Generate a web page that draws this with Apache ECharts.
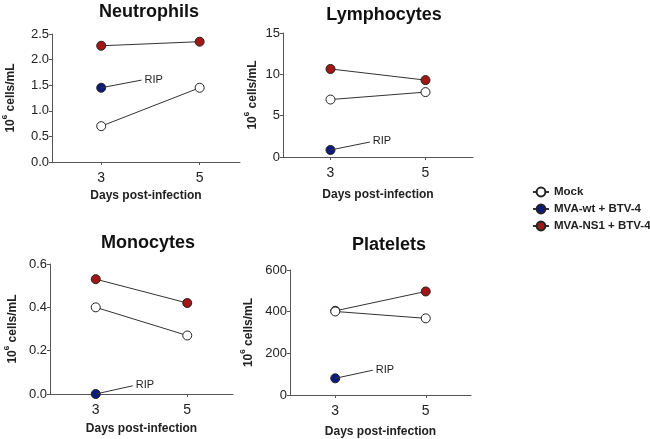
<!DOCTYPE html>
<html><head><meta charset="utf-8">
<script src="https://cdn.jsdelivr.net/npm/echarts@6/dist/echarts.min.js"></script>
<style>html,body{margin:0;padding:0;background:#fff}#c{width:650px;height:439px}</style>
</head><body><div id="c"></div>
<script>
// ---- data ----
const days = [3, 5];
const panelTitles = ['Neutrophils', 'Lymphocytes', 'Monocytes', 'Platelets'];
const groupNames = ['Mock', 'MVA-wt + BTV-4', 'MVA-NS1 + BTV-4'];
const neutroMock = [0.70, 1.45];
const neutroWt = [1.45];
const neutroNS1 = [2.27, 2.35];
const lymphoMock = [6.95, 7.85];
const lymphoWt = [0.85];
const lymphoNS1 = [10.65, 9.3];
const monoMock = [0.40, 0.27];
const monoWt = [0.0];
const monoNS1 = [0.53, 0.42];
const platMock = [401, 368];
const platWt = [80];
const platNS1 = [404, 497];
const yMax = [2.5, 15, 0.6, 600];
const yStep = [0.5, 5, 0.2, 200];
const yDecimals = [1, 0, 1, 0];
const xTickLabels = [3, 5];
const ripLabel = 'RIP';
// RIP annotation end points (data units)
const ripEnd = [[3.82, 1.60], [3.83, 1.81], [3.81, 0.038], [3.83, 119]];

const FONT = '"Liberation Sans", Arial, Helvetica, sans-serif';
const mockData = [neutroMock, lymphoMock, monoMock, platMock];
const wtData = [neutroWt, lymphoWt, monoWt, platWt];
const ns1Data = [neutroNS1, lymphoNS1, monoNS1, platNS1];

const grids = [
  {left: 49, top: 34, width: 191, height: 128},
  {left: 283, top: 33, width: 190, height: 124},
  {left: 50, top: 264, width: 183, height: 130},
  {left: 290, top: 270, width: 181, height: 126}
];
const xMax = [5.82, 6, 6, 6];
const yNameGap = [35, 24, 31, 35];
const xNameGap = [28, 32, 29, 31];
const titlePos = [[149, 3], [384, 6], [148, 234], [389, 236]];

const fillColors = ['#ffffff', '#0b1a7c', '#a11616'];
const edge = '#222';

const pairs = (xs, ys) => ys.map((v, i) => [xs[i], v]);

const series = [];
for (let p = 0; p < 4; p++) {
  const groups = [ns1Data[p], wtData[p], mockData[p]];
  const gIdx = [2, 1, 0];
  groups.forEach((vals, k) => {
    const g = gIdx[k];
    const s = {
      type: 'line', name: groupNames[g], xAxisIndex: p, yAxisIndex: p,
      data: pairs(days, vals), symbol: 'circle', symbolSize: 9, clip: false,
      z: 3 + k,
      lineStyle: {color: '#333', width: 1},
      itemStyle: {color: fillColors[g], borderColor: edge, borderWidth: 1},
      emphasis: {disabled: true}, animation: false
    };
    if (g === 1) {
      s.markLine = {
        silent: true, symbol: 'none', animation: false,
        lineStyle: {color: '#333', width: 1, type: 'solid'},
        label: {show: true, position: 'end', formatter: ripLabel, color: '#222',
                fontFamily: FONT, fontSize: 11, distance: 3},
        data: [[{coord: [days[0], vals[0]]}, {coord: ripEnd[p]}]]
      };
    }
    series.push(s);
  });
}

const xAxes = grids.map((g, p) => ({
  type: 'value', gridIndex: p, min: 2, max: xMax[p],
  name: 'Days post-infection', nameLocation: 'middle', nameGap: xNameGap[p],
  nameTextStyle: {fontFamily: FONT, fontWeight: 'bold', fontSize: 12, color: '#222'},
  axisLine: {show: true, onZero: false, lineStyle: {color: '#555', width: 1}},
  axisTick: {show: true, length: 3, customValues: xTickLabels, lineStyle: {color: '#555'}},
  axisLabel: {customValues: xTickLabels, fontFamily: FONT, fontSize: 14, color: '#222', margin: 9},
  splitLine: {show: false}
}));
const yAxes = grids.map((g, p) => ({
  type: 'value', gridIndex: p, min: 0, max: yMax[p], interval: yStep[p],
  name: '{a|10}{s|6}{a| cells/mL}', nameLocation: 'middle', nameGap: yNameGap[p],
  nameTextStyle: {fontFamily: FONT, fontWeight: 'bold', fontSize: 12, color: '#222',
    rich: {a: {fontFamily: FONT, fontWeight: 'bold', fontSize: 12, color: '#222', lineHeight: 16, verticalAlign: 'bottom'},
           s: {fontFamily: FONT, fontWeight: 'bold', fontSize: 8, color: '#222', verticalAlign: 'top', lineHeight: 10}}},
  axisLine: {show: true, onZero: false, lineStyle: {color: '#555', width: 1}},
  axisTick: {show: true, length: 3, lineStyle: {color: '#555'}},
  axisLabel: {fontFamily: FONT, fontSize: 13, color: '#222', margin: 3,
    formatter: v => v.toFixed(yDecimals[p])},
  splitLine: {show: false}
}));

const titles = panelTitles.map((t, p) => ({
  text: t, left: titlePos[p][0], top: titlePos[p][1], textAlign: 'center', padding: 0,
  textStyle: {fontFamily: FONT, fontWeight: 'bold', fontSize: 18, color: '#111'}
}));

const chart = echarts.init(document.getElementById('c'), null, {renderer: 'canvas'});
chart.setOption({
  animation: false,
  backgroundColor: '#fff',
  title: titles,
  grid: grids,
  xAxis: xAxes,
  yAxis: yAxes,
  legend: {
    data: groupNames, orient: 'vertical', left: 527, top: 181,
    itemWidth: 16, itemHeight: 11, itemGap: 5, selectedMode: false,
    textStyle: {fontFamily: FONT, fontWeight: 'bold', fontSize: 11.5, color: '#222'}
  },
  series: series
});
</script></body></html>
